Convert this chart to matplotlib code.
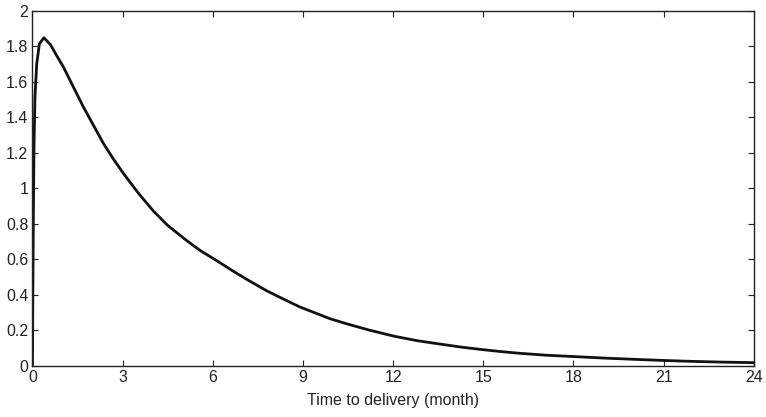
import matplotlib
matplotlib.use("Agg")
import matplotlib.pyplot as plt

t = [0.0, 0.01, 0.03, 0.05, 0.083, 0.14, 0.23, 0.38, 0.6, 0.8, 1.03, 1.35,
     1.69, 2.0, 2.36, 2.7, 3.02, 3.52, 4.02, 4.5, 5.13, 5.57, 6.24, 6.68, 7.2,
     7.80, 8.3, 8.9, 9.9, 10.46, 11.2, 12.04, 12.8, 13.56, 14.3, 15.06, 15.56,
     16.2, 17.1, 18.06, 19.0, 20.0, 21.07, 22.0, 23.0, 24.0]
v = [0.0, 0.35, 0.85, 1.23, 1.515, 1.70, 1.815, 1.849, 1.81, 1.75, 1.684, 1.575,
     1.46, 1.364, 1.253, 1.163, 1.085, 0.973, 0.872, 0.79, 0.705, 0.650, 0.580,
     0.532, 0.479, 0.421, 0.379, 0.330, 0.264, 0.235, 0.20, 0.165, 0.140, 0.121,
     0.103, 0.088, 0.079, 0.069, 0.058, 0.050, 0.042, 0.035, 0.028, 0.023,
     0.019, 0.016]

xticks = [0, 3, 6, 9, 12, 15, 18, 21, 24]
yticks = [0, 0.2, 0.4, 0.6, 0.8, 1, 1.2, 1.4, 1.6, 1.8, 2]
ytick_labels = ["0", "0.2", "0.4", "0.6", "0.8", "1", "1.2", "1.4", "1.6", "1.8", "2"]
xlabel = "Time to delivery (month)"

plt.rcParams['font.family'] = ['Liberation Sans', 'DejaVu Sans']
fig = plt.figure(figsize=(7.66, 4.17), dpi=100)
ax = fig.add_axes([0.0424, 0.1235, 0.9416, 0.8501])
ax.plot(t, v, color='#111111', linewidth=2.0, solid_joinstyle='round',
        solid_capstyle='round')
ax.set_xlim(0, 24)
ax.set_ylim(0, 2)
ax.set_xticks(xticks)
ax.set_xticklabels([str(x) for x in xticks])
ax.set_yticks(yticks)
ax.set_yticklabels(ytick_labels)
ax.tick_params(direction='in', top=True, right=True, length=4, width=0.8,
               labelsize=11.5, colors='#222222', pad=3)
for s in ax.spines.values():
    s.set_linewidth(1.0)
    s.set_color('#222222')
ax.set_xlabel(xlabel, fontsize=11.5, color='#222222', labelpad=6)
fig.savefig("out.png", dpi=100)
